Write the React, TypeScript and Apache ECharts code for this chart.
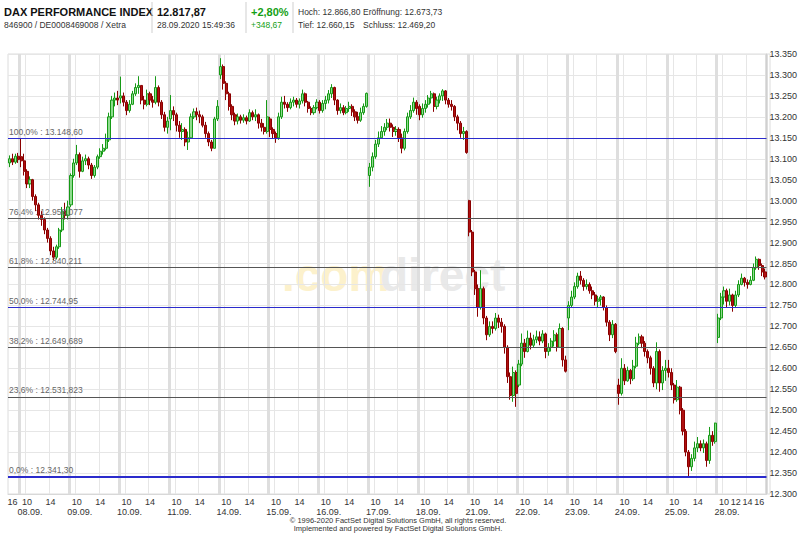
import React, { useEffect, useRef } from "react";
import * as echarts from "echarts";

// ---- data: [open, close, low, high] per 30-minute candle ----
const FIRST_DATE = "07.09.";
const FIRST_TIMES = ["15:30", "16:00", "16:30", "17:00"];
const DAY_TIMES = ["09:00", "09:30", "10:00", "10:30", "11:00", "11:30", "12:00", "12:30", "13:00", "13:30", "14:00", "14:30", "15:00", "15:30", "16:00", "16:30", "17:00"];
const DATES = ["08.09.", "09.09.", "10.09.", "11.09.", "14.09.", "15.09.", "16.09.", "17.09.", "18.09.", "21.09.", "22.09.", "23.09.", "24.09.", "25.09.", "28.09."];

const d0709 = [[13090, 13100, 13080, 13108], [13100, 13092, 13085, 13112], [13092, 13106, 13088, 13112], [13106, 13098, 13090, 13114]];
const d0809 = [[13105, 13095, 13080, 13148.6], [13095, 13070, 13060, 13112], [13070, 13040, 13030, 13075], [13040, 13050, 13030, 13058], [13050, 13010, 13000, 13052], [13010, 12990, 12975, 13015], [12990, 12965, 12955, 12995], [12965, 12955, 12940, 12975], [12955, 12930, 12920, 12960], [12930, 12910, 12900, 12935], [12910, 12880, 12870, 12915], [12880, 12865, 12858, 12890], [12865, 12890, 12860, 12895], [12890, 12930, 12885, 12935], [12930, 12975, 12925, 12985], [12975, 12965, 12955, 12995], [12965, 12985, 12955, 13000]];
const d0909 = [[12990, 13060, 12985, 13065], [13060, 13090, 13055, 13100], [13090, 13110, 13085, 13133], [13110, 13070, 13055, 13115], [13070, 13095, 13068, 13105], [13095, 13100, 13085, 13110], [13100, 13085, 13075, 13105], [13085, 13060, 13052, 13090], [13060, 13080, 13055, 13085], [13080, 13105, 13075, 13110], [13105, 13118, 13100, 13125], [13118, 13125, 13110, 13135], [13125, 13145, 13120, 13160], [13145, 13200, 13140, 13210], [13200, 13240, 13195, 13250], [13240, 13245, 13225, 13258], [13245, 13240, 13228, 13262]];
const d1009 = [[13245, 13250, 13232, 13296], [13250, 13235, 13225, 13258], [13235, 13215, 13204, 13240], [13215, 13230, 13210, 13240], [13230, 13255, 13228, 13262], [13255, 13270, 13250, 13280], [13270, 13275, 13255, 13297], [13275, 13240, 13230, 13275], [13240, 13230, 13218, 13250], [13230, 13255, 13225, 13265], [13255, 13240, 13228, 13260], [13240, 13235, 13222, 13250], [13235, 13270, 13230, 13297], [13270, 13235, 13225, 13275], [13235, 13205, 13195, 13240], [13205, 13175, 13165, 13212], [13175, 13190, 13160, 13200]];
const d1109 = [[13195, 13215, 13168, 13252], [13215, 13205, 13190, 13225], [13205, 13180, 13165, 13210], [13180, 13165, 13150, 13190], [13165, 13170, 13145, 13185], [13170, 13140, 13130, 13175], [13140, 13150, 13121, 13165], [13150, 13200, 13148, 13208], [13200, 13212, 13195, 13220], [13212, 13205, 13192, 13222], [13205, 13200, 13185, 13215], [13200, 13180, 13175, 13205], [13180, 13160, 13150, 13188], [13160, 13140, 13130, 13165], [13140, 13125, 13118, 13145], [13125, 13195, 13125, 13200], [13195, 13225, 13190, 13240]];
const d1409 = [[13300, 13320, 13290, 13340], [13320, 13280, 13265, 13325], [13280, 13255, 13240, 13285], [13255, 13225, 13215, 13260], [13225, 13205, 13192, 13230], [13205, 13190, 13180, 13210], [13190, 13200, 13182, 13208], [13200, 13192, 13184, 13205], [13192, 13198, 13186, 13206], [13198, 13190, 13182, 13203], [13190, 13210, 13188, 13218], [13210, 13200, 13192, 13215], [13200, 13205, 13190, 13218], [13205, 13185, 13172, 13208], [13185, 13175, 13165, 13195], [13175, 13165, 13158, 13185], [13165, 13200, 13160, 13240]];
const d1509 = [[13195, 13170, 13152, 13200], [13170, 13160, 13148, 13175], [13160, 13150, 13138, 13165], [13150, 13200, 13145, 13210], [13200, 13235, 13195, 13248], [13235, 13230, 13220, 13250], [13230, 13222, 13212, 13235], [13222, 13235, 13218, 13244], [13235, 13240, 13225, 13248], [13240, 13230, 13222, 13245], [13230, 13238, 13220, 13244], [13238, 13255, 13232, 13265], [13255, 13235, 13225, 13258], [13235, 13220, 13210, 13238], [13220, 13210, 13204, 13225], [13210, 13222, 13205, 13228], [13222, 13235, 13218, 13242]];
const d1609 = [[13235, 13215, 13208, 13240], [13215, 13232, 13210, 13240], [13232, 13240, 13218, 13250], [13240, 13255, 13232, 13264], [13255, 13270, 13245, 13278], [13270, 13240, 13228, 13272], [13240, 13215, 13205, 13242], [13215, 13222, 13208, 13232], [13222, 13210, 13204, 13228], [13210, 13220, 13206, 13226], [13220, 13225, 13212, 13236], [13225, 13212, 13202, 13230], [13212, 13200, 13190, 13218], [13200, 13192, 13184, 13212], [13192, 13210, 13188, 13222], [13210, 13225, 13205, 13232], [13225, 13256, 13222, 13258]];
const d1709 = [[13060, 13080, 13033, 13090], [13080, 13105, 13070, 13115], [13105, 13135, 13100, 13145], [13135, 13150, 13128, 13165], [13150, 13165, 13148, 13178], [13165, 13175, 13155, 13185], [13175, 13185, 13168, 13195], [13185, 13175, 13165, 13196], [13175, 13165, 13152, 13182], [13165, 13170, 13155, 13178], [13170, 13150, 13140, 13175], [13150, 13125, 13113, 13160], [13125, 13165, 13120, 13172], [13165, 13200, 13160, 13210], [13200, 13215, 13195, 13228], [13215, 13235, 13210, 13246], [13235, 13220, 13205, 13240]];
const d1809 = [[13225, 13205, 13192, 13230], [13205, 13220, 13198, 13232], [13220, 13230, 13210, 13240], [13230, 13245, 13222, 13252], [13245, 13255, 13232, 13262], [13255, 13225, 13212, 13258], [13225, 13240, 13218, 13248], [13240, 13250, 13232, 13256], [13250, 13262, 13238, 13266], [13262, 13240, 13230, 13264], [13240, 13230, 13222, 13245], [13230, 13225, 13215, 13240], [13225, 13200, 13190, 13228], [13200, 13185, 13168, 13205], [13185, 13160, 13150, 13190], [13160, 13165, 13145, 13176], [13165, 13115, 13112, 13168]];
const d2109 = [[13000, 12925, 12915, 13002], [12925, 12830, 12820, 12930], [12830, 12790, 12775, 12835], [12790, 12745, 12723, 12800], [12745, 12790, 12740, 12834], [12790, 12720, 12705, 12795], [12720, 12680, 12667, 12725], [12680, 12700, 12675, 12712], [12700, 12695, 12683, 12712], [12695, 12720, 12690, 12732], [12720, 12710, 12696, 12728], [12710, 12700, 12685, 12720], [12700, 12650, 12635, 12705], [12650, 12580, 12565, 12655], [12580, 12535, 12525, 12590], [12535, 12590, 12520, 12604], [12590, 12540, 12508, 12595]];
const d2209 = [[12560, 12610, 12555, 12620], [12610, 12660, 12605, 12683], [12660, 12640, 12625, 12670], [12640, 12672, 12638, 12690], [12672, 12655, 12645, 12685], [12655, 12668, 12650, 12680], [12668, 12675, 12660, 12690], [12675, 12665, 12655, 12688], [12665, 12682, 12660, 12691], [12682, 12640, 12624, 12685], [12640, 12650, 12630, 12660], [12650, 12665, 12640, 12672], [12665, 12680, 12652, 12691], [12680, 12650, 12640, 12685], [12650, 12695, 12650, 12707], [12695, 12620, 12604, 12698], [12620, 12593, 12590, 12630]];
const d2309 = [[12720, 12750, 12691, 12760], [12750, 12770, 12745, 12785], [12770, 12795, 12765, 12805], [12795, 12820, 12790, 12828], [12820, 12810, 12800, 12832], [12810, 12795, 12785, 12815], [12795, 12800, 12788, 12812], [12800, 12785, 12778, 12805], [12785, 12775, 12765, 12795], [12775, 12760, 12750, 12782], [12760, 12765, 12745, 12773], [12765, 12770, 12750, 12775], [12770, 12745, 12738, 12772], [12745, 12710, 12700, 12750], [12710, 12680, 12665, 12715], [12680, 12705, 12672, 12715], [12705, 12640, 12636, 12708]];
const d2409 = [[12560, 12540, 12513, 12575], [12540, 12600, 12535, 12624], [12600, 12570, 12560, 12610], [12570, 12595, 12568, 12604], [12595, 12575, 12562, 12598], [12575, 12605, 12570, 12620], [12605, 12660, 12600, 12675], [12660, 12675, 12655, 12683], [12675, 12660, 12648, 12680], [12660, 12640, 12628, 12665], [12640, 12625, 12612, 12645], [12625, 12600, 12585, 12630], [12600, 12565, 12555, 12605], [12565, 12640, 12550, 12662], [12640, 12565, 12544, 12645], [12565, 12595, 12548, 12605], [12595, 12600, 12570, 12620]];
const d2509 = [[12600, 12590, 12578, 12620], [12590, 12560, 12548, 12600], [12560, 12525, 12516, 12565], [12525, 12555, 12520, 12572], [12555, 12500, 12490, 12558], [12500, 12450, 12440, 12505], [12450, 12400, 12390, 12455], [12400, 12365, 12341.3, 12405], [12365, 12385, 12355, 12395], [12385, 12410, 12378, 12425], [12410, 12420, 12400, 12436], [12420, 12410, 12402, 12428], [12410, 12420, 12398, 12430], [12420, 12380, 12365, 12425], [12380, 12440, 12372, 12460], [12440, 12425, 12415, 12450], [12425, 12469.2, 12420, 12470]];
const d2809 = [[12673.73, 12720, 12660.15, 12730], [12720, 12770, 12715, 12780], [12770, 12785, 12752, 12795], [12785, 12760, 12745, 12790], [12760, 12775, 12750, 12790], [12775, 12750, 12735, 12778], [12750, 12775, 12745, 12785], [12775, 12800, 12770, 12810], [12800, 12815, 12798, 12826], [12815, 12805, 12795, 12818], [12805, 12800, 12790, 12812], [12800, 12810, 12798, 12820], [12810, 12840, 12808, 12850], [12840, 12860, 12835, 12866.8], [12860, 12845, 12835, 12862], [12845, 12830, 12820, 12850], [12830, 12817.87, 12812, 12838]];
const DAY_DATA = [d0809, d0909, d1009, d1109, d1409, d1509, d1609, d1709, d1809, d2109, d2209, d2309, d2409, d2509, d2809];

// Fibonacci retracement levels
const FIB_VALUES = [13148.6, 12958.077, 12840.211, 12744.95, 12649.689, 12531.823, 12341.3];
const FIB_LABELS = ["100,0% : 13.148,60", "76,4% : 12.958,077", "61,8% : 12.840,211", "50,0% : 12.744,95", "38,2% : 12.649,689", "23,6% : 12.531,823", "0,0% : 12.341,30"];
const FIB_COLORS = ["#2b2bcc", "#555555", "#555555", "#2b2bcc", "#555555", "#555555", "#2b2bcc"];

// Y axis ticks
const Y_MIN = 12300;
const Y_MAX = 13350;
const Y_STEP = 50;

const FONT = "Arial, 'Liberation Sans', sans-serif";

function fmtThousands(v: number): string {
  const s = String(Math.round(v));
  return s.slice(0, s.length - 3) + "." + s.slice(-3);
}

export default function App() {
  const ref = useRef<HTMLDivElement>(null);

  useEffect(() => {
    if (!ref.current) return;
    const chart = echarts.init(ref.current, undefined, { renderer: "svg" });

    const cats: string[] = [];
    const vals: number[][] = [];
    FIRST_TIMES.forEach((t, i) => {
      cats.push(FIRST_DATE + " " + t);
      vals.push(d0709[i]);
    });
    DATES.forEach((d, k) => {
      DAY_TIMES.forEach((t, i) => {
        cats.push(d + " " + t);
        vals.push(DAY_DATA[k][i]);
      });
    });
    const lastDate = DATES[DATES.length - 1];

    const hourLabel = (v: string) => {
      const [d, t] = v.split(" ");
      if (t === "10:00" || t === "14:00") return true;
      if (d === FIRST_DATE && t === "16:00") return true;
      if (d === lastDate && (t === "12:00" || t === "16:00")) return true;
      return false;
    };

    const txt = (text: string, x: number, y: number, font: string, fill: string, align = "left") => ({
      type: "text",
      x,
      y,
      silent: true,
      style: { text, font, fill, align, verticalAlign: "middle", textAlign: align, textVerticalAlign: "middle" },
    });
    const vline = (x: number) => ({
      type: "line",
      silent: true,
      shape: { x1: x, y1: 2, x2: x, y2: 33 },
      style: { stroke: "#cfcfcf", lineWidth: 1 },
    });

    const option: any = {
      animation: false,
      backgroundColor: "#ffffff",
      grid: { left: 8, right: 30, top: 54, bottom: 39, show: false },
      xAxis: [
        {
          type: "category",
          data: cats,
          boundaryGap: true,
          axisLine: { show: true, lineStyle: { color: "#d8d8d8" } },
          axisTick: { show: false },
          axisLabel: {
            interval: (_i: number, v: string) => hourLabel(v),
            formatter: (v: string) => String(parseInt(v.split(" ")[1], 10)),
            color: "#333",
            fontSize: 9,
            fontFamily: FONT,
            margin: 3,
          },
          splitLine: {
            show: true,
            interval: (_i: number, v: string) => {
              const t = v.split(" ")[1];
              return t === "10:00" || t === "14:00";
            },
            lineStyle: { color: "#e6e6e6", width: 1 },
          },
        },
        {
          type: "category",
          data: cats,
          boundaryGap: true,
          position: "bottom",
          axisLine: { show: false },
          axisTick: { show: false },
          axisLabel: {
            interval: (_i: number, v: string) => v.split(" ")[1] === "10:30",
            formatter: (v: string) => v.split(" ")[0],
            color: "#333",
            fontSize: 9,
            fontFamily: FONT,
            margin: 13,
          },
          splitLine: {
            show: true,
            interval: (_i: number, v: string) => v.split(" ")[1] === "09:00",
            lineStyle: { color: "#dedede", width: 3 },
          },
        },
      ],
      yAxis: {
        type: "value",
        position: "right",
        min: Y_MIN,
        max: Y_MAX,
        interval: Y_STEP,
        scale: true,
        axisLine: { show: true, lineStyle: { color: "#d0d0d0" } },
        axisTick: { show: false },
        axisLabel: {
          formatter: (v: number) => fmtThousands(v),
          color: "#333",
          fontSize: 9,
          fontFamily: FONT,
          margin: 3,
        },
        splitLine: { show: true, lineStyle: { color: "#e6e6e6", width: 1 } },
      },
      graphic: [
        // watermark
        txt(".com", 282, 275, "bold 46px " + FONT, "#fcf1cc"),
        txt("direct", 380, 275, "bold 46px " + FONT, "#e9e9e9"),
        // plot border
        {
          type: "rect",
          silent: true,
          shape: { x: 8, y: 54, width: 762, height: 440 },
          style: { fill: "none", stroke: "#dcdcdc", lineWidth: 1 },
        },
        // header
        txt("DAX PERFORMANCE INDEX", 4, 12, "bold 11px " + FONT, "#111"),
        txt("846900 / DE0008469008 / Xetra", 4, 25, "8.5px " + FONT, "#333"),
        vline(152),
        txt("12.817,87", 157, 12, "bold 11px " + FONT, "#111"),
        txt("28.09.2020 15:49:36", 157, 25, "8.5px " + FONT, "#333"),
        vline(246),
        txt("+2,80%", 251, 12, "bold 11px " + FONT, "#14a014"),
        txt("+348,67", 251, 25, "8.5px " + FONT, "#14a014"),
        vline(293),
        txt("Hoch: 12.866,80", 298, 12, "8.5px " + FONT, "#333"),
        txt("Eröffnung: 12.673,73", 363, 12, "8.5px " + FONT, "#333"),
        txt("Tief: 12.660,15", 298, 25, "8.5px " + FONT, "#333"),
        txt("Schluss: 12.469,20", 363, 25, "8.5px " + FONT, "#333"),
        // footer
        txt("© 1996-2020 FactSet Digital Solutions GmbH, all rights reserved.", 398, 520, "7.5px " + FONT, "#333", "center"),
        txt("Implemented and powered by FactSet Digital Solutions GmbH.", 398, 528, "7.5px " + FONT, "#333", "center"),
      ],
      series: [
        {
          type: "candlestick",
          xAxisIndex: 0,
          yAxisIndex: 0,
          data: vals,
          barWidth: 2.6,
          itemStyle: {
            color: "#8fdc8f",
            borderColor: "#169a16",
            color0: "#b01010",
            borderColor0: "#8a0000",
            borderWidth: 1,
          },
          markLine: {
            silent: true,
            symbol: ["none", "none"],
            animation: false,
            data: FIB_VALUES.map((v, i) => ({
              yAxis: v,
              lineStyle: { color: FIB_COLORS[i], width: i === FIB_VALUES.length - 1 ? 2 : 1, type: "solid" },
              label: {
                show: true,
                position: "insideStartTop",
                formatter: FIB_LABELS[i],
                color: "#666",
                fontSize: 8.5,
                fontFamily: FONT,
                distance: [1, 2],
              },
            })),
          },
        },
      ],
    };

    chart.setOption(option);
    return () => chart.dispose();
  }, []);

  return (
    <div
      ref={ref}
      style={{ position: "fixed", left: 0, top: 0, width: 800, height: 533, background: "#fff" }}
    />
  );
}
